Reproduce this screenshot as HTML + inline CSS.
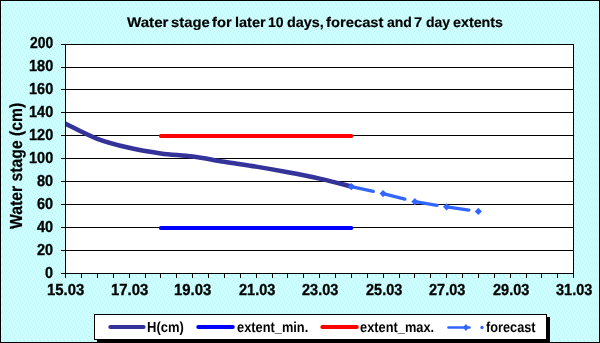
<!DOCTYPE html><html><head><meta charset="utf-8"><style>html,body{margin:0;padding:0;width:600px;height:343px;overflow:hidden;background:#ccffff}svg{display:block;will-change:transform}text{font-family:"Liberation Sans",sans-serif;font-weight:bold;fill:#000;stroke:#000;text-rendering:geometricPrecision}</style></head><body>
<svg width="600" height="343" viewBox="0 0 600 343">
<defs><pattern id="dots" x="0" y="0" width="8" height="8" patternUnits="userSpaceOnUse"><rect x="1" y="0" width="1" height="1" fill="#bcf0f0"/><rect x="5" y="1" width="1" height="1" fill="#bcf0f0"/><rect x="3" y="2" width="1" height="1" fill="#bcf0f0"/><rect x="7" y="3" width="1" height="1" fill="#bcf0f0"/><rect x="0" y="4" width="1" height="1" fill="#bcf0f0"/><rect x="4" y="5" width="1" height="1" fill="#bcf0f0"/><rect x="2" y="6" width="1" height="1" fill="#bcf0f0"/><rect x="6" y="7" width="1" height="1" fill="#bcf0f0"/></pattern><clipPath id="pa"><rect x="66" y="44" width="507" height="229"/></clipPath></defs>
<rect width="600" height="343" fill="#ccffff"/>
<rect width="600" height="343" fill="url(#dots)" shape-rendering="crispEdges"/>
<g shape-rendering="crispEdges" fill="#000">
<rect x="0" y="0" width="600" height="1"/><rect x="0" y="342" width="600" height="1"/><rect x="0" y="0" width="1" height="343"/><rect x="599" y="0" width="1" height="343"/>
</g>
<rect x="65" y="44" width="509" height="230" fill="#fff" shape-rendering="crispEdges"/>
<g shape-rendering="crispEdges" fill="#000">
<rect x="61" y="44" width="513" height="1"/>
<rect x="61" y="67" width="513" height="1"/>
<rect x="61" y="89" width="513" height="1"/>
<rect x="61" y="112" width="513" height="1"/>
<rect x="61" y="135" width="513" height="1"/>
<rect x="61" y="158" width="513" height="1"/>
<rect x="61" y="181" width="513" height="1"/>
<rect x="61" y="204" width="513" height="1"/>
<rect x="61" y="227" width="513" height="1"/>
<rect x="61" y="250" width="513" height="1"/>
<rect x="61" y="273" width="513" height="1"/>
<rect x="65" y="44" width="1" height="230"/>
<rect x="573" y="44" width="1" height="230"/>
<rect x="65" y="274" width="1" height="4"/>
<rect x="81" y="274" width="1" height="4"/>
<rect x="97" y="274" width="1" height="4"/>
<rect x="113" y="274" width="1" height="4"/>
<rect x="129" y="274" width="1" height="4"/>
<rect x="145" y="274" width="1" height="4"/>
<rect x="160" y="274" width="1" height="4"/>
<rect x="176" y="274" width="1" height="4"/>
<rect x="192" y="274" width="1" height="4"/>
<rect x="208" y="274" width="1" height="4"/>
<rect x="224" y="274" width="1" height="4"/>
<rect x="240" y="274" width="1" height="4"/>
<rect x="256" y="274" width="1" height="4"/>
<rect x="272" y="274" width="1" height="4"/>
<rect x="287" y="274" width="1" height="4"/>
<rect x="303" y="274" width="1" height="4"/>
<rect x="319" y="274" width="1" height="4"/>
<rect x="335" y="274" width="1" height="4"/>
<rect x="351" y="274" width="1" height="4"/>
<rect x="367" y="274" width="1" height="4"/>
<rect x="383" y="274" width="1" height="4"/>
<rect x="399" y="274" width="1" height="4"/>
<rect x="414" y="274" width="1" height="4"/>
<rect x="430" y="274" width="1" height="4"/>
<rect x="446" y="274" width="1" height="4"/>
<rect x="462" y="274" width="1" height="4"/>
<rect x="478" y="274" width="1" height="4"/>
<rect x="494" y="274" width="1" height="4"/>
<rect x="510" y="274" width="1" height="4"/>
<rect x="526" y="274" width="1" height="4"/>
<rect x="541" y="274" width="1" height="4"/>
<rect x="557" y="274" width="1" height="4"/>
<rect x="573" y="274" width="1" height="4"/>
</g>
<g clip-path="url(#pa)">
<path d="M65.60,123.70 C70.89,126.22 86.77,134.78 97.35,138.80 C107.93,142.82 118.52,145.37 129.10,147.80 C139.68,150.23 150.27,151.93 160.85,153.40 C171.43,154.87 182.02,155.20 192.60,156.60 C203.18,158.00 213.77,160.13 224.35,161.80 C234.93,163.47 245.52,164.87 256.10,166.60 C266.68,168.33 277.27,170.20 287.85,172.20 C298.43,174.20 309.02,176.22 319.60,178.60 C330.18,180.98 346.06,185.18 351.35,186.50" fill="none" stroke="#333399" stroke-width="4.5" stroke-linecap="round" stroke-linejoin="round"/>
<line x1="160.85" y1="228" x2="351.35" y2="228" stroke="#0000ff" stroke-width="4" stroke-linecap="round"/>
<line x1="160.85" y1="136" x2="351.35" y2="136" stroke="#ff0000" stroke-width="4" stroke-linecap="round"/>
<line x1="351.35" y1="186.60" x2="383.10" y2="193.60" stroke="#3366ff" stroke-width="3.3" stroke-linecap="round" stroke-dasharray="22.5 32.51249759707796"/>
<line x1="383.10" y1="193.60" x2="414.85" y2="201.70" stroke="#3366ff" stroke-width="3.3" stroke-linecap="round" stroke-dasharray="22.5 32.76694218263279"/>
<line x1="414.85" y1="201.70" x2="446.60" y2="206.80" stroke="#3366ff" stroke-width="3.3" stroke-linecap="round" stroke-dasharray="22.5 32.156997683241514"/>
<line x1="446.60" y1="206.80" x2="478.35" y2="211.40" stroke="#3366ff" stroke-width="3.3" stroke-linecap="round" stroke-dasharray="22.5 32.08149778299012"/>
<path d="M351.35,183.00 L354.95,186.60 L351.35,190.20 L347.75,186.60Z" fill="#3366ff"/>
<path d="M383.10,190.00 L386.70,193.60 L383.10,197.20 L379.50,193.60Z" fill="#3366ff"/>
<path d="M414.85,198.10 L418.45,201.70 L414.85,205.30 L411.25,201.70Z" fill="#3366ff"/>
<path d="M446.60,203.20 L450.20,206.80 L446.60,210.40 L443.00,206.80Z" fill="#3366ff"/>
<path d="M478.35,207.80 L481.95,211.40 L478.35,215.00 L474.75,211.40Z" fill="#3366ff"/>
</g>
<rect x="97" y="317" width="453" height="26" fill="#000" shape-rendering="crispEdges"/>
<rect x="94.5" y="314.5" width="452" height="25" fill="#fff" stroke="#000" stroke-width="1" shape-rendering="crispEdges"/>
<line x1="110.3" y1="327" x2="143.6" y2="327" stroke="#333399" stroke-width="4" stroke-linecap="round"/>

<line x1="198.3" y1="327" x2="232.8" y2="327" stroke="#0000ff" stroke-width="4" stroke-linecap="round"/>

<line x1="322.3" y1="327" x2="356.8" y2="327" stroke="#ff0000" stroke-width="4" stroke-linecap="round"/>

<line x1="448.5" y1="327.5" x2="469.5" y2="327.5" stroke="#3366ff" stroke-width="2.6" stroke-linecap="round"/>
<path d="M465.9,324 L468.9,327.5 L465.9,331 L462.9,327.5Z" fill="#3366ff"/>
<circle cx="482" cy="327.5" r="1.7" fill="#3366ff"/>

<text transform="matrix(1.0789,0,0,1.0,127.0,27.0)" font-size="14" style="stroke-width:0.15px">Water</text>
<text transform="matrix(1.0571,0,0,1.0,171.0,27.0)" font-size="14" style="stroke-width:0.15px">stage</text>
<text transform="matrix(1.0526,0,0,1.0,212.0,27.0)" font-size="14" style="stroke-width:0.15px">for</text>
<text transform="matrix(1.0369,0,0,1.0,235.0,27.0)" font-size="14" style="stroke-width:0.15px">later</text>
<text transform="matrix(1.0,0,0,1.0,268.0,27.0)" font-size="14" style="stroke-width:0.15px">10</text>
<text transform="matrix(1.0294,0,0,1.0,287.0,27.0)" font-size="14" style="stroke-width:0.15px">days,</text>
<text transform="matrix(1.0556,0,0,1.0,326.0,27.0)" font-size="14" style="stroke-width:0.15px">forecast</text>
<text transform="matrix(1.0,0,0,1.0,387.0,27.0)" font-size="14" style="stroke-width:0.15px">and</text>
<text transform="matrix(1.0421,0,0,1.0,414.0,27.0)" font-size="14" style="stroke-width:0.15px">7</text>
<text transform="matrix(1.0,0,0,1.0,426.0,27.0)" font-size="14" style="stroke-width:0.15px">day</text>
<text transform="matrix(1.0213,0,0,1.0,453.0,27.0)" font-size="14" style="stroke-width:0.15px">extents</text>
<text transform="matrix(1.0,0,0,1.1,45.0,278.0)" font-size="14.5" style="stroke-width:0.3px">0</text>
<text transform="matrix(1.0,0,0,1.1,37.0,255.0)" font-size="14.5" style="stroke-width:0.3px">20</text>
<text transform="matrix(1.0,0,0,1.1,37.0,232.0)" font-size="14.5" style="stroke-width:0.3px">40</text>
<text transform="matrix(1.0,0,0,1.1,37.0,209.0)" font-size="14.5" style="stroke-width:0.3px">60</text>
<text transform="matrix(1.0,0,0,1.1,37.0,186.0)" font-size="14.5" style="stroke-width:0.3px">80</text>
<text transform="matrix(1.0,0,0,1.1,29.0,163.0)" font-size="14.5" style="stroke-width:0.3px">100</text>
<text transform="matrix(1.0,0,0,1.1,29.0,140.0)" font-size="14.5" style="stroke-width:0.3px">120</text>
<text transform="matrix(1.0,0,0,1.1,29.0,117.0)" font-size="14.5" style="stroke-width:0.3px">140</text>
<text transform="matrix(1.0,0,0,1.1,29.0,94.0)" font-size="14.5" style="stroke-width:0.3px">160</text>
<text transform="matrix(1.0,0,0,1.1,29.0,71.0)" font-size="14.5" style="stroke-width:0.3px">180</text>
<text transform="matrix(0.9583,0,0,1.1,30.0,48.0)" font-size="14.5" style="stroke-width:0.3px">200</text>
<text transform="matrix(1.0286,0,0,1.1,47.0,295.0)" font-size="14.5" style="stroke-width:0.3px">15.03</text>
<text transform="matrix(1.0286,0,0,1.1,111.0,295.0)" font-size="14.5" style="stroke-width:0.3px">17.03</text>
<text transform="matrix(1.0286,0,0,1.1,174.0,295.0)" font-size="14.5" style="stroke-width:0.3px">19.03</text>
<text transform="matrix(1.0,0,0,1.1,239.0,295.0)" font-size="14.5" style="stroke-width:0.3px">21.03</text>
<text transform="matrix(1.0,0,0,1.1,302.0,295.0)" font-size="14.5" style="stroke-width:0.3px">23.03</text>
<text transform="matrix(1.0,0,0,1.1,366.0,295.0)" font-size="14.5" style="stroke-width:0.3px">25.03</text>
<text transform="matrix(1.0,0,0,1.1,429.0,295.0)" font-size="14.5" style="stroke-width:0.3px">27.03</text>
<text transform="matrix(1.0,0,0,1.1,493.0,295.0)" font-size="14.5" style="stroke-width:0.3px">29.03</text>
<text transform="matrix(1.0,0,0,1.1,556.0,295.0)" font-size="14.5" style="stroke-width:0.3px">31.03</text>
<text transform="matrix(1.0,0,0,1.111,147.0,332.0)" font-size="13" style="stroke-width:0.0px">H(cm)</text>
<text transform="matrix(0.9861,0,0,1.111,237.0,332.0)" font-size="13" style="stroke-width:0.0px">extent_min.</text>
<text transform="matrix(0.9865,0,0,1.111,360.0,332.0)" font-size="13" style="stroke-width:0.0px">extent_max.</text>
<text transform="matrix(0.9804,0,0,1.111,486.0,332.0)" font-size="13" style="stroke-width:0.0px">forecast</text>
<text transform="matrix(0,-0.9844,1.09,0,22.0,229.0)" font-size="16" style="stroke-width:0.2px">Water stage (cm)</text>
</svg></body></html>
